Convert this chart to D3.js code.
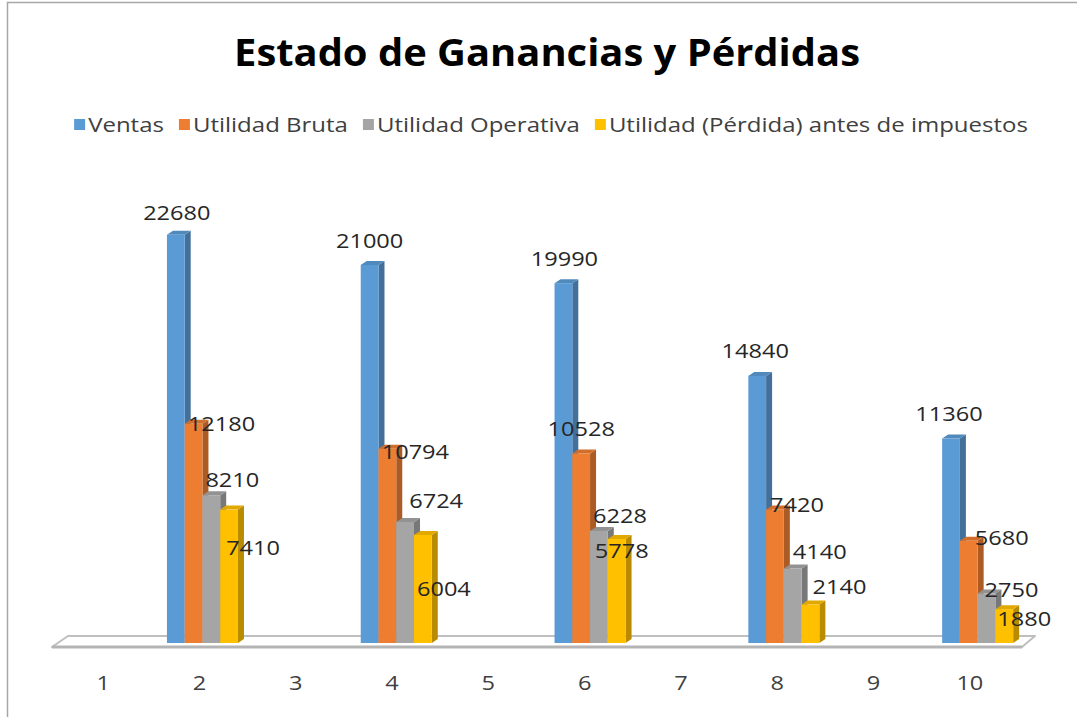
<!DOCTYPE html>
<html>
<head>
<meta charset="utf-8">
<script src="https://cdn.jsdelivr.net/npm/d3@7"></script>
<style>
    body { margin: 0; background: #fff; }
    svg { display: block; font-family: "Open Sans", "Noto Sans", sans-serif; }
</style>
</head>
<body>
<div id="chart"></div>
<script>
// categorias del eje (solo las pares tienen datos)
var categories = [1, 2, 3, 4, 5, 6, 7, 8, 9, 10];
var seriesNames = ["Ventas", "Utilidad Bruta", "Utilidad Operativa", "Utilidad (Pérdida) antes de impuestos"];
var ventas = [null, 22680, null, 21000, null, 19990, null, 14840, null, 11360];
var utilidadBruta = [null, 12180, null, 10794, null, 10528, null, 7420, null, 5680];
var utilidadOperativa = [null, 8210, null, 6724, null, 6228, null, 4140, null, 2750];
var utilidadAntes = [null, 7410, null, 6004, null, 5778, null, 2140, null, 1880];
var seriesColors = ["#5B9BD5", "#ED7D31", "#A5A5A5", "#FFC000"];

var W = 1077, H = 717;
// estiramiento horizontal del texto (la captura original esta ensanchada)
var SX = 1.15;

var svg = d3.select("#chart").append("svg")
    .attr("width", W)
    .attr("height", H);

svg.append("rect").attr("width", W).attr("height", H).attr("fill", "#fff");

// borde del area del grafico (cortado a la derecha y abajo)
svg.append("path")
    .attr("d", "M7.5," + H + "V2.5H" + W)
    .attr("fill", "none")
    .attr("stroke", "#a6a6a6")
    .attr("stroke-width", 1.5);

/**
 * Texto con estiramiento horizontal alrededor de su ancla.
 */
function stretchedText(parent, x, y, str, sx) {
    return parent.append("text")
        .attr("transform", "translate(" + x + "," + y + ") scale(" + (sx || SX) + ",1)")
        .text(str);
}

// titulo
stretchedText(svg, 547, 66, "Estado de Ganancias y Pérdidas", 1.05)
    .attr("text-anchor", "middle")
    .attr("font-size", 38)
    .attr("font-weight", 700)
    .attr("fill", "#000");

// leyenda
var legend = svg.append("g");
var lx = 0;
var LSX = 1.2;
seriesNames.forEach(function (name, i) {
    var item = legend.append("g").attr("transform", "translate(" + lx + ",0)");
    item.append("rect")
        .attr("x", 0).attr("y", 119)
        .attr("width", 11).attr("height", 11)
        .attr("fill", seriesColors[i]);
    var t = stretchedText(item, 14, 132, name, LSX)
        .attr("font-size", 20)
        .attr("fill", "#404040");
    lx += 14 + t.node().getComputedTextLength() * LSX + 15;
});
lx -= 15;
legend.attr("transform", "translate(" + (551 - lx / 2) + ",0)");

// escalas
var xAxisScale = d3.scaleBand().domain(categories).range([55, 1018]);
var xBar = d3.scaleBand().domain(categories).range([57.1, 1026.1])
    .paddingInner(0.267).paddingOuter(0.1335);
var xSub = d3.scaleBand().domain(d3.range(seriesNames.length)).range([0, xBar.bandwidth()]);
var y = d3.scaleLinear().domain([0, 25000]).range([643, 193]);

// profundidad del efecto 3D
var DX = 6, DY = 4;

// piso del grafico
var x0 = xAxisScale.range()[0], x1 = xAxisScale.range()[1];
var floorFront = 647, floorBack = 636;
svg.append("path")
    .attr("d", "M" + (x0 - 3) + "," + floorFront + "L" + (x0 + 13) + "," + floorBack +
        "L" + (x1 + 17) + "," + floorBack + "L" + (x1 + 4) + "," + floorFront + "Z")
    .attr("fill", "#fff")
    .attr("stroke", "#bfbfbf")
    .attr("stroke-width", 2)
    .attr("stroke-linejoin", "round");
svg.append("line")
    .attr("x1", x0 - 3).attr("x2", x1 + 4)
    .attr("y1", floorFront).attr("y2", floorFront)
    .attr("stroke", "#b4b4b4")
    .attr("stroke-width", 3);

var allSeries = [ventas, utilidadBruta, utilidadOperativa, utilidadAntes];

// barras 3D, de izquierda a derecha para que cada una tape el lateral de la anterior
var bars = [];
categories.forEach(function (c, ci) {
    allSeries.forEach(function (values, si) {
        if (values[ci] == null) return;
        bars.push({ c: c, ci: ci, si: si, value: values[ci] });
    });
});

var barG = svg.append("g");
bars.forEach(function (d) {
    var bx = xBar(d.c) + xSub(d.si);
    var bw = xSub.bandwidth();
    var top = y(d.value), bottom = y(0);
    var base = d3.color(seriesColors[d.si]);
    var g = barG.append("g");
    // lateral
    g.append("path")
        .attr("d", "M" + (bx + bw) + "," + top + "L" + (bx + bw + DX) + "," + (top - DY) +
            "L" + (bx + bw + DX) + "," + (bottom - DY) + "L" + (bx + bw) + "," + bottom + "Z")
        .attr("fill", base.darker(0.9));
    // tapa
    g.append("path")
        .attr("d", "M" + bx + "," + top + "L" + (bx + DX) + "," + (top - DY) +
            "L" + (bx + bw + DX) + "," + (top - DY) + "L" + (bx + bw) + "," + top + "Z")
        .attr("fill", base.darker(0.35));
    // frente
    g.append("rect")
        .attr("x", bx).attr("y", top)
        .attr("width", bw).attr("height", bottom - top)
        .attr("fill", base);
});

// ajuste de etiquetas como las coloca Excel para evitar choques [dx, dy] respecto al centro y tope
var labelNudge = {
    2: [[1, -23], [28, -1], [21, -17], [24, 37]],
    4: [[0, -25], [28, 2], [31, -22], [21, 53]],
    6: [[1, -26], [0, -26], [21, -16], [5, 11]],
    8: [[-2, -26], [22, -6], [27, -18], [29, -19]],
    10: [[-2, -26], [33, -4], [25, -5], [20, 8]]
};

var labelG = svg.append("g");
bars.forEach(function (d) {
    var cx = xBar(d.c) + xSub(d.si) + xSub.bandwidth() / 2;
    var n = labelNudge[d.c][d.si];
    stretchedText(labelG, cx + n[0], y(d.value) + n[1], d.value)
        .attr("text-anchor", "middle")
        .attr("dominant-baseline", "central")
        .attr("font-size", 20.5)
        .attr("fill", "#262626");
});

// eje de categorias
var axisG = svg.append("g").attr("transform", "translate(0,675)")
    .call(d3.axisBottom(xAxisScale).tickSize(0).tickPadding(0));
axisG.select(".domain").remove();
axisG.selectAll(".tick text")
    .attr("font-family", "'Open Sans', sans-serif")
    .attr("font-size", 20.5)
    .attr("fill", "#404040")
    .attr("dy", "0.71em")
    .attr("transform", "scale(" + SX + ",1)");
</script>
</body>
</html>
